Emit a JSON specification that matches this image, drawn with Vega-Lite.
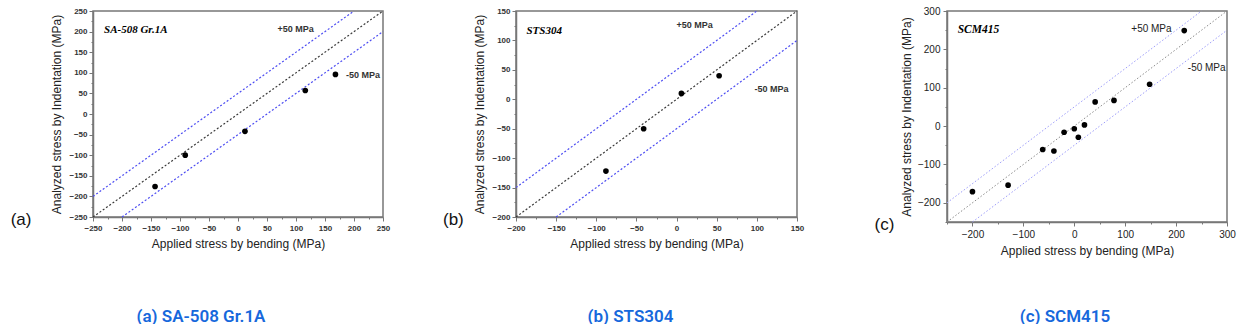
{
  "$schema": "https://vega.github.io/schema/vega-lite/v6.json",
  "padding": {"left": 9, "top": 5, "right": 5, "bottom": 0},
  "background": "white",
  "config": {
    "view": {"stroke": "#777", "strokeWidth": 1.5},
    "axis": {"grid": false, "domainColor": "#777", "domainWidth": 1.5, "tickColor": "#777", "labelOverlap": false, "labelFlush": false, "titleFont": "Liberation Sans", "titleFontSize": 12, "titleFontWeight": "normal", "titleColor": "#222", "labelFont": "Liberation Sans"}
  },
  "datasets": {
    "points": [
      {"p": "a", "x": -143, "y": -176}, {"p": "a", "x": -91, "y": -100}, {"p": "a", "x": 12, "y": -42}, {"p": "a", "x": 116, "y": 57}, {"p": "a", "x": 168, "y": 96},
      {"p": "b", "x": -88, "y": -122}, {"p": "b", "x": -41, "y": -50}, {"p": "b", "x": 6, "y": 10}, {"p": "b", "x": 53, "y": 40},
      {"p": "c", "x": -200, "y": -171}, {"p": "c", "x": -130, "y": -154}, {"p": "c", "x": -62, "y": -61}, {"p": "c", "x": -40, "y": -65}, {"p": "c", "x": -20, "y": -16}, {"p": "c", "x": 0, "y": -7}, {"p": "c", "x": 8, "y": -29}, {"p": "c", "x": 20, "y": 3}, {"p": "c", "x": 41, "y": 63}, {"p": "c", "x": 78, "y": 67}, {"p": "c", "x": 148, "y": 109}, {"p": "c", "x": 216, "y": 249}
    ],
    "lines": [
      {"p": "a", "k": "center", "x": -250, "y": -250, "x2": 250, "y2": 250},
      {"p": "a", "k": "plus", "x": -250, "y": -200, "x2": 200, "y2": 250},
      {"p": "a", "k": "minus", "x": -200, "y": -250, "x2": 250, "y2": 200},
      {"p": "b", "k": "center", "x": -200, "y": -200, "x2": 150, "y2": 150},
      {"p": "b", "k": "plus", "x": -200, "y": -150, "x2": 100, "y2": 150},
      {"p": "b", "k": "minus", "x": -150, "y": -200, "x2": 150, "y2": 100},
      {"p": "c", "k": "center", "x": -250, "y": -250, "x2": 300, "y2": 300},
      {"p": "c", "k": "plus", "x": -250, "y": -200, "x2": 250, "y2": 300},
      {"p": "c", "k": "minus", "x": -200, "y": -250, "x2": 300, "y2": 250}
    ],
    "labels": [
      {"p": "a", "r": "title", "t": "SA-508 Gr.1A", "x": -231, "y": 203},
      {"p": "a", "r": "band", "t": "+50 MPa", "x": 68, "y": 207},
      {"p": "a", "r": "band", "t": "-50 MPa", "x": 186, "y": 94},
      {"p": "a", "r": "tag", "t": "(a)", "x": -374, "y": -257},
      {"p": "b", "r": "title", "t": "STS304", "x": -187, "y": 116},
      {"p": "b", "r": "band", "t": "+50 MPa", "x": 0, "y": 127},
      {"p": "b", "r": "band", "t": "-50 MPa", "x": 97, "y": 17},
      {"p": "b", "r": "tag", "t": "(b)", "x": -278, "y": -205},
      {"p": "c", "r": "title", "t": "SCM415", "x": -229, "y": 251},
      {"p": "c", "r": "band", "t": "+50 MPa", "x": 112, "y": 252},
      {"p": "c", "r": "band", "t": "-50 MPa", "x": 223, "y": 151},
      {"p": "c", "r": "tag", "t": "(c)", "x": -373, "y": -257}
    ]
  },
  "spacing": 51,
  "hconcat": [
    {
      "width": 290, "height": 206,
      "title": {"text": "(a) SA-508 Gr.1A", "orient": "bottom", "anchor": "middle", "frame": "group", "dx": -37, "offset": 60, "fontSize": 17, "font": "Roboto", "fontWeight": 600, "color": "#1668dc"},
      "encoding": {
        "x": {"field": "x", "type": "quantitative", "scale": {"domain": [-250, 250], "nice": false, "zero": false},
          "axis": {"title": "Applied stress by bending (MPa)", "values": [-250, -225, -200, -175, -150, -125, -100, -75, -50, -25, 0, 25, 50, 75, 100, 125, 150, 175, 200, 225, 250], "labelExpr": "datum.value % 50 === 0 ? datum.label : ''", "tickSize": {"condition": {"test": "datum.value % 50 === 0", "value": 4}, "value": 2}, "labelFontSize": 8, "labelFontWeight": "bold", "labelColor": "#333", "labelPadding": 3, "titlePadding": 6}},
        "y": {"field": "y", "type": "quantitative", "scale": {"domain": [-250, 250], "nice": false, "zero": false},
          "axis": {"title": "Analyzed stress by Indentation (MPa)", "values": [-250, -225, -200, -175, -150, -125, -100, -75, -50, -25, 0, 25, 50, 75, 100, 125, 150, 175, 200, 225, 250], "labelExpr": "datum.value % 50 === 0 ? datum.label : ''", "tickSize": {"condition": {"test": "datum.value % 50 === 0", "value": 4}, "value": 2}, "labelFontSize": 8, "labelFontWeight": "bold", "labelColor": "#333", "labelPadding": 2, "titlePadding": 5}}
      },
      "layer": [
        {"data": {"name": "lines"}, "transform": [{"filter": "datum.p === 'a'"}], "mark": {"type": "rule", "strokeDash": [2, 2], "strokeWidth": 1.2},
          "encoding": {"x2": {"field": "x2"}, "y2": {"field": "y2"}, "color": {"condition": {"test": "datum.k === 'center'", "value": "#3a3a3a"}, "value": "#4d4df2"}}},
        {"data": {"name": "points"}, "transform": [{"filter": "datum.p === 'a'"}], "mark": {"type": "circle", "size": 32, "color": "#000", "opacity": 1}},
        {"data": {"name": "labels"}, "transform": [{"filter": "datum.p === 'a' && datum.r === 'title'"}], "mark": {"type": "text", "font": "Liberation Serif", "fontStyle": "italic", "fontWeight": "bold", "fontSize": 11, "align": "left", "baseline": "middle", "color": "#000"}, "encoding": {"text": {"field": "t"}}},
        {"data": {"name": "labels"}, "transform": [{"filter": "datum.p === 'a' && datum.r === 'band'"}], "mark": {"type": "text", "font": "Liberation Sans", "fontWeight": "bold", "fontSize": 9, "align": "left", "baseline": "middle", "color": "#333"}, "encoding": {"text": {"field": "t"}}},
        {"data": {"name": "labels"}, "transform": [{"filter": "datum.p === 'a' && datum.r === 'tag'"}], "mark": {"type": "text", "font": "Liberation Sans", "fontSize": 17, "align": "center", "baseline": "middle", "color": "#111"}, "encoding": {"text": {"field": "t"}}}
      ]
    },
    {
      "spacing": 68,
      "hconcat": [
        {
          "width": 281, "height": 206,
          "title": {"text": "(b) STS304", "orient": "bottom", "anchor": "middle", "frame": "group", "dx": -26, "offset": 60, "fontSize": 17, "font": "Roboto", "fontWeight": 600, "color": "#1668dc"},
          "encoding": {
            "x": {"field": "x", "type": "quantitative", "scale": {"domain": [-200, 150], "nice": false, "zero": false},
              "axis": {"title": "Applied stress by bending (MPa)", "values": [-200, -175, -150, -125, -100, -75, -50, -25, 0, 25, 50, 75, 100, 125, 150], "labelExpr": "datum.value % 50 === 0 ? datum.label : ''", "tickSize": {"condition": {"test": "datum.value % 50 === 0", "value": 4}, "value": 2}, "labelFontSize": 8, "labelFontWeight": "bold", "labelColor": "#333", "labelPadding": 3, "titlePadding": 6}},
            "y": {"field": "y", "type": "quantitative", "scale": {"domain": [-200, 150], "nice": false, "zero": false},
              "axis": {"title": "Analyzed stress by Indentation (MPa)", "values": [-200, -175, -150, -125, -100, -75, -50, -25, 0, 25, 50, 75, 100, 125, 150], "labelExpr": "datum.value % 50 === 0 ? datum.label : ''", "tickSize": {"condition": {"test": "datum.value % 50 === 0", "value": 4}, "value": 2}, "labelFontSize": 8, "labelFontWeight": "bold", "labelColor": "#333", "labelPadding": 2, "titlePadding": 5}}
          },
          "layer": [
            {"data": {"name": "lines"}, "transform": [{"filter": "datum.p === 'b'"}], "mark": {"type": "rule", "strokeDash": [2, 2], "strokeWidth": 1.2},
              "encoding": {"x2": {"field": "x2"}, "y2": {"field": "y2"}, "color": {"condition": {"test": "datum.k === 'center'", "value": "#3a3a3a"}, "value": "#4d4df2"}}},
            {"data": {"name": "points"}, "transform": [{"filter": "datum.p === 'b'"}], "mark": {"type": "circle", "size": 32, "color": "#000", "opacity": 1}},
            {"data": {"name": "labels"}, "transform": [{"filter": "datum.p === 'b' && datum.r === 'title'"}], "mark": {"type": "text", "font": "Liberation Serif", "fontStyle": "italic", "fontWeight": "bold", "fontSize": 11, "align": "left", "baseline": "middle", "color": "#000"}, "encoding": {"text": {"field": "t"}}},
            {"data": {"name": "labels"}, "transform": [{"filter": "datum.p === 'b' && datum.r === 'band'"}], "mark": {"type": "text", "font": "Liberation Sans", "fontWeight": "bold", "fontSize": 9, "align": "left", "baseline": "middle", "color": "#333"}, "encoding": {"text": {"field": "t"}}},
            {"data": {"name": "labels"}, "transform": [{"filter": "datum.p === 'b' && datum.r === 'tag'"}], "mark": {"type": "text", "font": "Liberation Sans", "fontSize": 17, "align": "center", "baseline": "middle", "color": "#111"}, "encoding": {"text": {"field": "t"}}}
          ]
        },
        {
          "width": 280, "height": 211,
          "title": {"text": "(c) SCM415", "orient": "bottom", "anchor": "middle", "frame": "group", "dx": -22, "offset": 53, "fontSize": 17, "font": "Roboto", "fontWeight": 600, "color": "#1668dc"},
          "encoding": {
            "x": {"field": "x", "type": "quantitative", "scale": {"domain": [-250, 300], "nice": false, "zero": false},
              "axis": {"title": "Applied stress by bending (MPa)", "values": [-250, -200, -150, -100, -50, 0, 50, 100, 150, 200, 250, 300], "labelExpr": "datum.value % 100 === 0 ? datum.label : ''", "tickSize": {"condition": {"test": "datum.value % 100 === 0", "value": 4}, "value": 2}, "labelFontSize": 10, "labelColor": "#222", "labelPadding": 3, "titlePadding": 6}},
            "y": {"field": "y", "type": "quantitative", "scale": {"domain": [-250, 300], "nice": false, "zero": false},
              "axis": {"title": "Analyzed stress by Indentation (MPa)", "values": [-250, -200, -150, -100, -50, 0, 50, 100, 150, 200, 250, 300], "labelExpr": "datum.value % 100 === 0 ? datum.label : ''", "tickSize": {"condition": {"test": "datum.value % 100 === 0", "value": 4}, "value": 2}, "labelFontSize": 10, "labelColor": "#222", "labelPadding": 3, "titlePadding": 4}}
          },
          "layer": [
            {"data": {"name": "lines"}, "transform": [{"filter": "datum.p === 'c'"}], "mark": {"type": "rule", "strokeDash": [1.5, 2], "strokeWidth": 1},
              "encoding": {"x2": {"field": "x2"}, "y2": {"field": "y2"}, "color": {"condition": {"test": "datum.k === 'center'", "value": "#8a8a8a"}, "value": "#9d9dfa"}}},
            {"data": {"name": "points"}, "transform": [{"filter": "datum.p === 'c'"}], "mark": {"type": "circle", "size": 32, "color": "#000", "opacity": 1}},
            {"data": {"name": "labels"}, "transform": [{"filter": "datum.p === 'c' && datum.r === 'title'"}], "mark": {"type": "text", "font": "Liberation Serif", "fontStyle": "italic", "fontWeight": "bold", "fontSize": 11.5, "align": "left", "baseline": "middle", "color": "#000"}, "encoding": {"text": {"field": "t"}}},
            {"data": {"name": "labels"}, "transform": [{"filter": "datum.p === 'c' && datum.r === 'band'"}], "mark": {"type": "text", "font": "Liberation Sans", "fontSize": 10, "align": "left", "baseline": "middle", "color": "#222"}, "encoding": {"text": {"field": "t"}}},
            {"data": {"name": "labels"}, "transform": [{"filter": "datum.p === 'c' && datum.r === 'tag'"}], "mark": {"type": "text", "font": "Liberation Sans", "fontSize": 17, "align": "center", "baseline": "middle", "color": "#111"}, "encoding": {"text": {"field": "t"}}}
          ]
        }
      ]
    }
  ]
}
